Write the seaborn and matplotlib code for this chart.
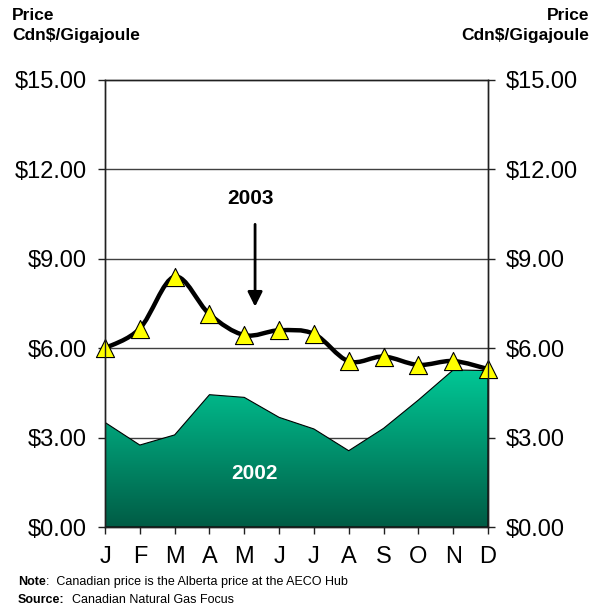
import numpy as np
import matplotlib
matplotlib.use("Agg")
from matplotlib import pyplot as plt
from matplotlib.path import Path
from matplotlib.patches import PathPatch
from matplotlib.colors import LinearSegmentedColormap
import seaborn as sns

# donnees
months = ["J", "F", "M", "A", "M", "J", "J", "A", "S", "O", "N", "D"]
price_2002 = [3.51, 2.75, 3.09, 4.44, 4.35, 3.68, 3.29, 2.56, 3.31, 4.26, 5.27, 5.25]
price_2003 = [6.0, 6.66, 8.4, 7.14, 6.44, 6.6, 6.48, 5.56, 5.72, 5.44, 5.57, 5.3]
y_ticks = [0, 3, 6, 9, 12, 15]
y_labels = ["$0.00", "$3.00", "$6.00", "$9.00", "$12.00", "$15.00"]

sns.set_style("white")
plt.rcParams["font.family"] = ["Liberation Sans", "DejaVu Sans"]
plt.rcParams["text.color"] = "black"
plt.rcParams["xtick.color"] = "black"
plt.rcParams["ytick.color"] = "black"

fig = plt.figure(figsize=(6.01, 6.07), dpi=100)
ax = fig.add_axes([105 / 601, 1 - 527 / 607, 383 / 601, 447 / 607])
x = np.arange(len(months))

# zone 2002 avec degrade
poly = ax.fill_between(x, price_2002, 0, facecolor="none", edgecolor="black", linewidth=0.8, zorder=2)
cmap = LinearSegmentedColormap.from_list("vert", ["#005c45", "#00c896"])
grad = np.linspace(0, 1, 256).reshape(-1, 1)
img = ax.imshow(grad, cmap=cmap, origin="lower", aspect="auto",
                extent=[0, 11, 0, max(price_2002)], zorder=1)
img.set_clip_path(poly.get_paths()[0], transform=ax.transData)
ax.plot([0, 0], [0, price_2002[0]], color="black", lw=1.2, zorder=3)

# courbe lissee 2003 (Catmull-Rom -> Bezier)
pts = np.column_stack([x, price_2003]).astype(float)
verts = [tuple(pts[0])]
codes = [Path.MOVETO]
for i in range(len(pts) - 1):
    p0 = pts[max(i - 1, 0)]
    p1 = pts[i]
    p2 = pts[i + 1]
    p3 = pts[min(i + 2, len(pts) - 1)]
    c1 = p1 + (p2 - p0) / 6
    c2 = p2 - (p3 - p1) / 6
    verts += [tuple(c1), tuple(c2), tuple(p2)]
    codes += [Path.CURVE4] * 3
ax.add_patch(PathPatch(Path(verts, codes), facecolor="none", edgecolor="black", lw=3.2, zorder=4, clip_on=False))
sns.scatterplot(x=x, y=price_2003, marker="^", s=170, color="#ffff00", edgecolor="black",
                linewidth=0.8, zorder=5, clip_on=False, ax=ax, legend=False)

# grille et axes
for v in y_ticks[1:-1]:
    ax.axhline(v, color="#404040", lw=1.0, zorder=0.5)
ax.set_xlim(0, 11)
ax.set_ylim(0, 15)
ax.set_xticks(x)
ax.set_xticklabels(months, fontsize=17)
ax.set_yticks(y_ticks)
ax.set_yticklabels(y_labels, fontsize=17)
ax.tick_params(axis="both", direction="out", length=5, width=1, color="#202020", left=True, bottom=True)
ax.tick_params(axis="x", pad=9)
ax.tick_params(axis="y", pad=8)
for s in ax.spines.values():
    s.set_color("#202020")
    s.set_linewidth(1.0)

ax2 = ax.twinx()
ax2.set_ylim(0, 15)
ax2.set_yticks(y_ticks)
ax2.set_yticklabels(y_labels, fontsize=17)
ax2.tick_params(axis="y", direction="out", length=5, width=1, color="#202020", right=True, pad=8)
for s in ax2.spines.values():
    s.set_color("#202020")
    s.set_linewidth(1.0)

# annotations
ax.text(4.17, 11.04, "2003", ha="center", va="center", fontsize=15, fontweight="bold")
ax.annotate("", xy=(4.31, 7.3), xytext=(4.31, 10.25),
            arrowprops=dict(arrowstyle="-|>", color="black", lw=2, mutation_scale=22))
ax.text(4.28, 1.81, "2002", ha="center", va="center", fontsize=15, fontweight="bold", color="white", zorder=6)

fig.text(12 / 601, 1 - 8 / 607, "Price\nCdn$/Gigajoule", ha="left", va="top", fontsize=12.5,
         fontweight="bold", linespacing=1.4)
fig.text(589 / 601, 1 - 8 / 607, "Price\nCdn$/Gigajoule", ha="right", va="top", fontsize=12.5,
         fontweight="bold", linespacing=1.4, multialignment="right")

n1 = fig.text(18 / 601, 1 - 585 / 607, "Note", fontsize=9, fontweight="bold", va="baseline")
ax.annotate(":  Canadian price is the Alberta price at the AECO Hub", xy=(1, 0), xycoords=n1,
            fontsize=9, va="bottom", ha="left", annotation_clip=False)
n2 = fig.text(18 / 601, 1 - 603 / 607, "Source:", fontsize=9, fontweight="bold", va="baseline")
ax.annotate("  Canadian Natural Gas Focus", xy=(1, 0), xycoords=n2,
            fontsize=9, va="bottom", ha="left", annotation_clip=False)

fig.savefig("out.png", dpi=100)
plt.close()
